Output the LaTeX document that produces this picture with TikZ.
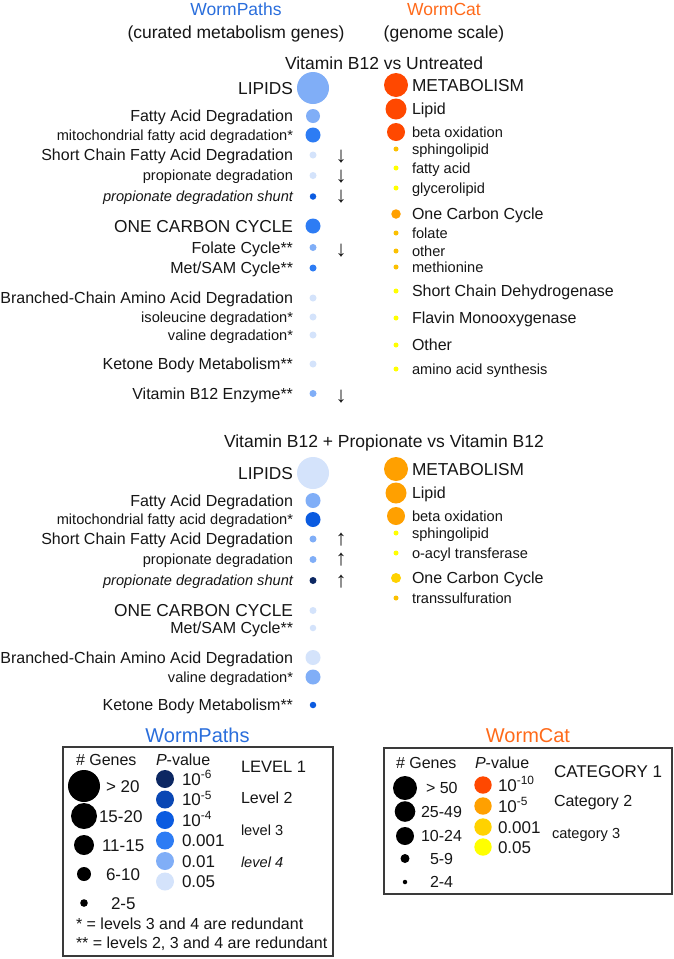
\documentclass[tikz,border=0pt]{standalone}
\usepackage{fontspec}
\setmainfont{Liberation Sans}
\definecolor{ink}{HTML}{161616}
\definecolor{boxgray}{HTML}{3A3A3A}
\definecolor{hdrBlue}{HTML}{2A6EDC}
\definecolor{hdrOrange}{HTML}{FF6A1A}
\definecolor{bA}{HTML}{0C2762}
\definecolor{bB}{HTML}{0A47B4}
\definecolor{bC}{HTML}{0B5BE0}
\definecolor{bD}{HTML}{2D7CF4}
\definecolor{bE}{HTML}{80AEF7}
\definecolor{bF}{HTML}{D4E3FB}
\definecolor{oA}{HTML}{FF4800}
\definecolor{oB}{HTML}{FFA000}
\definecolor{oC}{HTML}{FFD200}
\definecolor{oG}{HTML}{FBC000}
\definecolor{oD}{HTML}{FFFF00}
\tikzset{
 lab/.style={inner sep=0pt, outer sep=0pt, text depth=0pt, text=ink},
 fH/.style={font=\fontsize{17.5}{21}\selectfont, text height=12.5pt},
 fA/.style={font=\fontsize{17.3}{21}\selectfont, text height=12.4pt},
 fB/.style={font=\fontsize{16}{19}\selectfont, text height=11.5pt},
 fC/.style={font=\fontsize{14.6}{17}\selectfont, text height=10.5pt},
 fN/.style={font=\fontsize{17}{20}\selectfont, text height=12.2pt},
 fT/.style={font=\fontsize{20}{24}\selectfont, text height=14.3pt},
 le/.style={lab, anchor=east},
 ri/.style={lab, anchor=west},
 dot/.style={circle, inner sep=0pt, outer sep=0pt, draw=none},
 arr/.style={inner sep=0pt, outer sep=0pt, font=\fontsize{22}{24}\selectfont, text=ink},
 legbox/.style={draw=boxgray, line width=1.2pt},
}
% name, y, font style, text, diameter, colour
\newcommand{\Lrow}[6]{%
 \node[le,#3] (#1t) at (293,#2) {#4};
 \node[dot, minimum size=#5, fill=#6] (#1c) at (313,#2) {};}
\newcommand{\Rrow}[6]{%
 \node[dot, minimum size=#5, fill=#6] (#1c) at (396,#2) {};
 \node[ri,#3] (#1t) at (412,#2) {#4};}
\begin{document}
\begin{tikzpicture}[x=1pt,y=-1pt]
\useasboundingbox (0,0) rectangle (673,959);
\fill[white] (0,0) rectangle (673,959);

% headers
\node[lab,fH,text=hdrBlue] (hwp) at (236,9) {WormPaths};
\node[lab,fH] (hwp2) at (236,32) {(curated metabolism genes)};
\node[lab,fH,text=hdrOrange] (hwc) at (444,9) {WormCat};
\node[lab,fH] (hwc2) at (444,32) {(genome scale)};

% ---------- panel 1 ----------
\node[ri,fH] (t1) at (285,63) {Vitamin B12 vs Untreated};

\Lrow{a1}{88}{fA}{LIPIDS}{32pt}{bE}
\Lrow{a2}{116}{fB}{Fatty Acid Degradation}{14pt}{bE}
\Lrow{a3}{135}{fC}{mitochondrial fatty acid degradation*}{15pt}{bD}
\Lrow{a4}{155}{fB}{Short Chain Fatty Acid Degradation}{7pt}{bF}
\Lrow{a5}{175.5}{fC}{propionate degradation}{7pt}{bF}
\Lrow{a6}{196.5}{fC}{\itshape propionate degradation shunt}{6.5pt}{bC}
\Lrow{a7}{226}{fA}{ONE CARBON CYCLE}{15pt}{bD}
\Lrow{a8}{247.5}{fB}{Folate Cycle**}{7pt}{bE}
\Lrow{a9}{268}{fB}{Met/SAM Cycle**}{7pt}{bD}
\Lrow{a10}{298}{fB}{Branched-Chain Amino Acid Degradation}{7pt}{bF}
\Lrow{a11}{317}{fC}{isoleucine degradation*}{7pt}{bF}
\Lrow{a12}{335}{fC}{valine degradation*}{7pt}{bF}
\Lrow{a13}{364}{fB}{Ketone Body Metabolism**}{7pt}{bF}
\Lrow{a14}{393.5}{fB}{Vitamin B12 Enzyme**}{7pt}{bE}

\node[arr] (d1) at (341,157) {↓};
\node[arr] (d2) at (341,177) {↓};
\node[arr] (d3) at (341,197) {↓};
\node[arr] (d4) at (341,251) {↓};
\node[arr] (d5) at (341,397) {↓};

\Rrow{c1}{85}{fA}{METABOLISM}{24pt}{oA}
\Rrow{c2}{109}{fB}{Lipid}{21pt}{oA}
\Rrow{c3}{132}{fC}{beta oxidation}{18pt}{oA}
\Rrow{c4}{149}{fC}{sphingolipid}{5pt}{oG}
\Rrow{c5}{168}{fC}{fatty acid}{5pt}{oD}
\Rrow{c6}{188}{fC}{glycerolipid}{5pt}{oD}
\Rrow{c7}{214}{fB}{One Carbon Cycle}{9.5pt}{oB}
\Rrow{c8}{233}{fC}{folate}{5pt}{oG}
\Rrow{c9}{251}{fC}{other}{5pt}{oG}
\Rrow{c10}{267}{fC}{methionine}{5pt}{oG}
\Rrow{c11}{291}{fB}{Short Chain Dehydrogenase}{5pt}{oD}
\Rrow{c12}{318}{fB}{Flavin Monooxygenase}{5pt}{oD}
\Rrow{c13}{345}{fB}{Other}{5pt}{oD}
\Rrow{c14}{369}{fC}{amino acid synthesis}{5pt}{oD}

% ---------- panel 2 ----------
\node[ri,fH] (t2) at (224,441) {Vitamin B12 + Propionate vs Vitamin B12};

\Lrow{b1}{473}{fA}{LIPIDS}{32pt}{bF}
\Lrow{b2}{500.5}{fB}{Fatty Acid Degradation}{15pt}{bE}
\Lrow{b3}{519.5}{fC}{mitochondrial fatty acid degradation*}{15pt}{bC}
\Lrow{b4}{539}{fB}{Short Chain Fatty Acid Degradation}{7pt}{bE}
\Lrow{b5}{559.5}{fC}{propionate degradation}{7pt}{bE}
\Lrow{b6}{580.5}{fC}{\itshape propionate degradation shunt}{7pt}{bA}
\Lrow{b7}{610.5}{fA}{ONE CARBON CYCLE}{7pt}{bF}
\Lrow{b8}{628}{fB}{Met/SAM Cycle**}{6.5pt}{bF}
\Lrow{b9}{657.5}{fB}{Branched-Chain Amino Acid Degradation}{15pt}{bF}
\Lrow{b10}{677}{fC}{valine degradation*}{15pt}{bE}
\Lrow{b11}{705}{fB}{Ketone Body Metabolism**}{6.5pt}{bC}

\node[arr] (u1) at (341,540) {↑};
\node[arr] (u2) at (341,560) {↑};
\node[arr] (u3) at (341,582) {↑};

\Rrow{e1}{469}{fA}{METABOLISM}{24pt}{oB}
\Rrow{e2}{493}{fB}{Lipid}{21pt}{oB}
\Rrow{e3}{516}{fC}{beta oxidation}{18pt}{oB}
\Rrow{e4}{533}{fC}{sphingolipid}{5pt}{oD}
\Rrow{e5}{553}{fC}{o-acyl transferase}{5pt}{oD}
\Rrow{e6}{578}{fB}{One Carbon Cycle}{10pt}{oC}
\Rrow{e7}{598}{fC}{transsulfuration}{5pt}{oG}

% ---------- WormPaths legend ----------
\node[lab,fT,text=hdrBlue] (lwp) at (197.5,735) {WormPaths};
\draw[legbox] (63,747) rectangle (333,956);
\node[ri,fB] (lwpg) at (76,760) {\# Genes};
\node[dot,minimum size=32pt,fill=black] (gs1) at (84,786) {};
\node[dot,minimum size=26pt,fill=black] (gs2) at (84,816) {};
\node[dot,minimum size=20pt,fill=black] (gs3) at (84,845) {};
\node[dot,minimum size=14pt,fill=black] (gs4) at (84,874) {};
\node[dot,minimum size=7.6pt,fill=black] (gs5) at (84,903) {};
\node[ri,fN] (gl1) at (106,786) {> 20};
\node[ri,fN] (gl2) at (99,816) {15-20};
\node[ri,fN] (gl3) at (102,845) {11-15};
\node[ri,fN] (gl4) at (106,874) {6-10};
\node[ri,fN] (gl5) at (111,903) {2-5};
\node[ri,fB] (n1) at (76,924) {* = levels 3 and 4 are redundant};
\node[ri,fB] (n2) at (76,943) {** = levels 2, 3 and 4 are redundant};
\node[ri,fB] (lwpp) at (156,760) {\textit{P}-value};
\node[dot,minimum size=18pt,fill=bA] (p1) at (165,779) {};
\node[dot,minimum size=18pt,fill=bB] (p2) at (165,799.5) {};
\node[dot,minimum size=18pt,fill=bC] (p3) at (165,820) {};
\node[dot,minimum size=18pt,fill=bD] (p4) at (165,840.5) {};
\node[dot,minimum size=18pt,fill=bE] (p5) at (165,861) {};
\node[dot,minimum size=18pt,fill=bF] (p6) at (165,881.5) {};
\node[ri,fN] (pl1) at (182,779) {10\textsuperscript{-6}};
\node[ri,fN] (pl2) at (182,799.5) {10\textsuperscript{-5}};
\node[ri,fN] (pl3) at (182,820) {10\textsuperscript{-4}};
\node[ri,fN] (pl4) at (182,840.5) {0.001};
\node[ri,fN] (pl5) at (182,861) {0.01};
\node[ri,fN] (pl6) at (182,881.5) {0.05};
\node[ri,font=\fontsize{16.5}{20}\selectfont,text height=11.8pt] (lv1) at (241,767) {LEVEL 1};
\node[ri,fB] (lv2) at (241,798) {Level 2};
\node[ri,fC] (lv3) at (241,830) {level 3};
\node[ri,fC] (lv4) at (241,862) {\itshape level 4};

% ---------- WormCat legend ----------
\node[lab,fT,text=hdrOrange] (lwc) at (528,735) {WormCat};
\draw[legbox] (384,748) rectangle (672,894);
\node[ri,fB] (lwcg) at (396,763) {\# Genes};
\node[dot,minimum size=24pt,fill=black] (hs1) at (405,788) {};
\node[dot,minimum size=20.6pt,fill=black] (hs2) at (405,811.5) {};
\node[dot,minimum size=18pt,fill=black] (hs3) at (405,836) {};
\node[dot,minimum size=9pt,fill=black] (hs4) at (405,858.5) {};
\node[dot,minimum size=4.5pt,fill=black] (hs5) at (405,882) {};
\node[ri,fB] (hl1) at (426,788) {> 50};
\node[ri,fB] (hl2) at (421,811.5) {25-49};
\node[ri,fB] (hl3) at (421,836) {10-24};
\node[ri,fB] (hl4) at (430,858.5) {5-9};
\node[ri,fB] (hl5) at (430,882) {2-4};
\node[ri,fB] (lwcp) at (475,763) {\textit{P}-value};
\node[dot,minimum size=17.4pt,fill=oA] (q1) at (483,785) {};
\node[dot,minimum size=17.4pt,fill=oB] (q2) at (483,806) {};
\node[dot,minimum size=17.4pt,fill=oC] (q3) at (483,827) {};
\node[dot,minimum size=17.4pt,fill=oD] (q4) at (483,847) {};
\node[ri,fN] (ql1) at (498,785) {10\textsuperscript{-10}};
\node[ri,fN] (ql2) at (498,806) {10\textsuperscript{-5}};
\node[ri,fN] (ql3) at (498,827) {0.001};
\node[ri,fN] (ql4) at (498,847) {0.05};
\node[ri,fN] (cat1) at (554,771) {CATEGORY 1};
\node[ri,fB] (cat2) at (554,801) {Category 2};
\node[ri,fC] (cat3) at (552,833) {category 3};
\end{tikzpicture}
\end{document}
